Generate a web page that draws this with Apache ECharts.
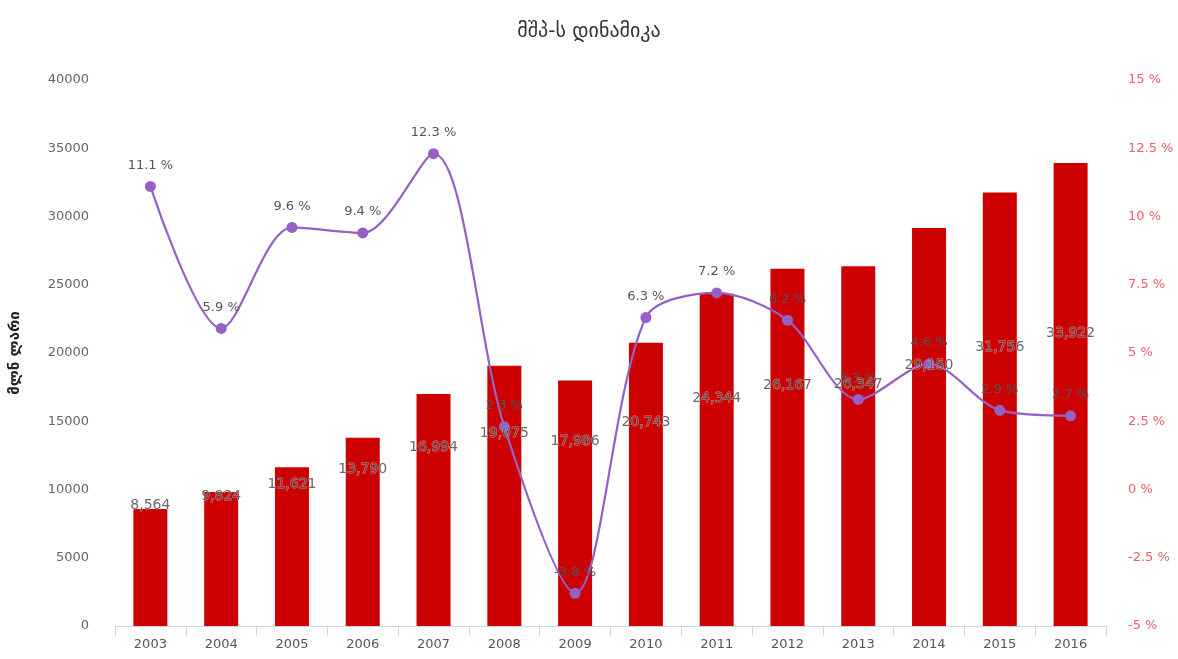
<!DOCTYPE html>
<html><head><meta charset="utf-8">
<script src="https://cdn.jsdelivr.net/npm/echarts@6/dist/echarts.min.js"></script>
<style>html,body{margin:0;padding:0;background:#fff}#c{width:1178px;height:659px}</style>
</head><body><div id="c"></div>
<script>
const years = ['2003','2004','2005','2006','2007','2008','2009','2010','2011','2012','2013','2014','2015','2016'];
const gdp = [8564, 9824, 11621, 13790, 16994, 19075, 17986, 20743, 24344, 26167, 26347, 29150, 31756, 33922];
const growth = [11.1, 5.9, 9.6, 9.4, 12.3, 2.3, -3.8, 6.3, 7.2, 6.2, 3.3, 4.6, 2.9, 2.7];
const titleText = 'მშპ-ს დინამიკა';
const unitText = 'მლნ ლარი';

const font = 'DejaVu Sans';
const chart = echarts.init(document.getElementById('c'));
chart.setOption({
  animation: false,
  textStyle: {fontFamily: font},
  title: {text: titleText, left: 'center', top: 17,
    textStyle: {fontFamily: font, fontSize: 20, fontWeight: 'normal', color: '#333'}},
  grid: {left: 115, right: 72, top: 80, bottom: 33},
  xAxis: {type: 'category', data: years,
    axisLine: {lineStyle: {color: '#ccd6eb'}},
    axisTick: {show: true, alignWithLabel: false, length: 10, lineStyle: {color: '#ccd6eb'}},
    axisLabel: {color: '#555', fontSize: 13, margin: 12}},
  yAxis: [
    {type: 'value', min: 0, max: 40000, interval: 5000,
      name: unitText, nameLocation: 'middle', nameGap: 92, nameRotate: 90,
      nameTextStyle: {fontFamily: font, fontWeight: 'bold', color: '#222', fontSize: 15},
      splitLine: {show: false}, axisLine: {show: false}, axisTick: {show: false},
      axisLabel: {color: '#666', fontSize: 13, margin: 26, formatter: v => String(v)}},
    {type: 'value', min: -5, max: 15, interval: 2.5, position: 'right',
      splitLine: {show: false}, axisLine: {show: false}, axisTick: {show: false},
      axisLabel: {color: '#e8606a', fontSize: 13, margin: 22, align: 'left',
        formatter: v => v + ' %'}},
    {type: 'value', min: -9275, max: 71220, show: false}
  ],
  series: [
    {type: 'bar', yAxisIndex: 0, data: gdp, barWidth: 34,
      itemStyle: {color: '#cc0000'}, z: 1},
    {type: 'line', yAxisIndex: 1, data: growth, smooth: 0.3,
      symbol: 'circle', symbolSize: 11,
      lineStyle: {color: '#9561c4', width: 2.2},
      itemStyle: {color: '#9561c4'},
      label: {show: true, position: 'top', distance: 9, color: '#555', fontSize: 13,
        formatter: p => p.value + ' %'}, z: 3},
    {type: 'scatter', yAxisIndex: 2, data: gdp, symbolSize: 1,
      itemStyle: {color: 'rgba(0,0,0,0)'}, silent: true,
      label: {show: true, position: 'inside', color: '#444', fontSize: 14,
        textBorderColor: 'rgba(255,255,255,0.6)', textBorderWidth: 1,
        formatter: p => p.value.toLocaleString('en-US')}, z: 4}
  ]
});
</script></body></html>
